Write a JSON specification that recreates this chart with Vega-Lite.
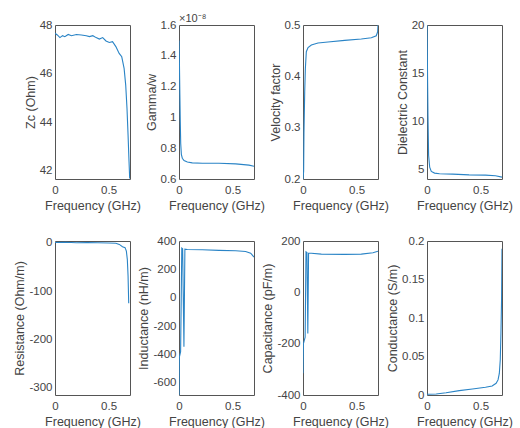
{
  "$schema": "https://vega.github.io/schema/vega-lite/v6.json",
  "background": "white",
  "padding": {"left": 13, "top": 12, "right": 5, "bottom": 1},
  "datasets": {
    "zc": [
      {"f": 0, "v": 47.66}, {"f": 0.0215, "v": 47.59}, {"f": 0.046, "v": 47.48}, {"f": 0.0706, "v": 47.56},
      {"f": 0.092, "v": 47.52}, {"f": 0.123, "v": 47.61}, {"f": 0.1535, "v": 47.56}, {"f": 0.2, "v": 47.61},
      {"f": 0.246, "v": 47.59}, {"f": 0.292, "v": 47.56}, {"f": 0.322, "v": 47.52}, {"f": 0.353, "v": 47.56},
      {"f": 0.384, "v": 47.48}, {"f": 0.414, "v": 47.42}, {"f": 0.445, "v": 47.48}, {"f": 0.476, "v": 47.34},
      {"f": 0.507, "v": 47.28}, {"f": 0.537, "v": 47.31}, {"f": 0.568, "v": 47.11}, {"f": 0.599, "v": 46.83},
      {"f": 0.623, "v": 46.69}, {"f": 0.645, "v": 46.21}, {"f": 0.66, "v": 45.52}, {"f": 0.672, "v": 44.56},
      {"f": 0.682, "v": 43.46}, {"f": 0.691, "v": 42.36}, {"f": 0.697, "v": 41.67}
    ],
    "gamma": [
      {"f": 0, "v": 1.5}, {"f": 0.004, "v": 1.35}, {"f": 0.008, "v": 1.15}, {"f": 0.012, "v": 0.97},
      {"f": 0.016, "v": 0.83}, {"f": 0.022, "v": 0.76}, {"f": 0.031, "v": 0.735}, {"f": 0.047, "v": 0.72},
      {"f": 0.078, "v": 0.71}, {"f": 0.124, "v": 0.705}, {"f": 0.218, "v": 0.702}, {"f": 0.373, "v": 0.702},
      {"f": 0.529, "v": 0.698}, {"f": 0.653, "v": 0.69}, {"f": 0.7, "v": 0.683}
    ],
    "vf": [
      {"f": 0, "v": 0.2}, {"f": 0.006, "v": 0.215}, {"f": 0.009, "v": 0.29}, {"f": 0.016, "v": 0.37},
      {"f": 0.022, "v": 0.415}, {"f": 0.031, "v": 0.448}, {"f": 0.047, "v": 0.456}, {"f": 0.078, "v": 0.461},
      {"f": 0.14, "v": 0.465}, {"f": 0.233, "v": 0.467}, {"f": 0.389, "v": 0.47}, {"f": 0.544, "v": 0.4726},
      {"f": 0.638, "v": 0.475}, {"f": 0.684, "v": 0.479}, {"f": 0.697, "v": 0.487}, {"f": 0.7, "v": 0.5}
    ],
    "eps": [
      {"f": 0, "v": 20}, {"f": 0.003, "v": 17}, {"f": 0.009, "v": 10.6}, {"f": 0.015, "v": 6.5},
      {"f": 0.025, "v": 5.28}, {"f": 0.04, "v": 4.83}, {"f": 0.071, "v": 4.66}, {"f": 0.117, "v": 4.59},
      {"f": 0.24, "v": 4.55}, {"f": 0.393, "v": 4.48}, {"f": 0.546, "v": 4.45}, {"f": 0.639, "v": 4.38},
      {"f": 0.7, "v": 4.24}
    ],
    "res": [
      {"f": 0, "v": 1}, {"f": 0.1, "v": 1.5}, {"f": 0.2, "v": 0.5}, {"f": 0.3, "v": 1}, {"f": 0.4, "v": 0.5},
      {"f": 0.5, "v": 0}, {"f": 0.568, "v": -0.7}, {"f": 0.6, "v": -3}, {"f": 0.63, "v": -7.7},
      {"f": 0.654, "v": -9.8}, {"f": 0.666, "v": -17}, {"f": 0.675, "v": -34}, {"f": 0.682, "v": -69},
      {"f": 0.688, "v": -125}
    ],
    "ind": [
      {"f": 0, "v": -690}, {"f": 0.003, "v": -420}, {"f": 0.015, "v": -380}, {"f": 0.026, "v": 350},
      {"f": 0.034, "v": 345}, {"f": 0.046, "v": -345}, {"f": 0.055, "v": 342}, {"f": 0.078, "v": 340},
      {"f": 0.218, "v": 338}, {"f": 0.373, "v": 334}, {"f": 0.529, "v": 331}, {"f": 0.622, "v": 326},
      {"f": 0.669, "v": 314}, {"f": 0.7, "v": 287}
    ],
    "cap": [
      {"f": 0, "v": -315}, {"f": 0.004, "v": -200}, {"f": 0.02, "v": -175}, {"f": 0.028, "v": 158},
      {"f": 0.037, "v": 155}, {"f": 0.045, "v": -160}, {"f": 0.052, "v": 152}, {"f": 0.078, "v": 152},
      {"f": 0.171, "v": 149}, {"f": 0.389, "v": 148}, {"f": 0.544, "v": 149}, {"f": 0.653, "v": 154},
      {"f": 0.7, "v": 160}
    ],
    "cond": [
      {"f": 0, "v": 0.001}, {"f": 0.086, "v": 0.0013}, {"f": 0.178, "v": 0.003}, {"f": 0.301, "v": 0.0057},
      {"f": 0.424, "v": 0.0078}, {"f": 0.546, "v": 0.01}, {"f": 0.608, "v": 0.0117}, {"f": 0.645, "v": 0.0152},
      {"f": 0.663, "v": 0.0196}, {"f": 0.675, "v": 0.028}, {"f": 0.684, "v": 0.046}, {"f": 0.69, "v": 0.08},
      {"f": 0.696, "v": 0.124}, {"f": 0.7, "v": 0.19}
    ]
  },
  "columns": 4,
  "spacing": {"row": 62, "column": 49},
  "bounds": "flush",
  "concat": [
    {
      "width": 75, "height": 154, "data": {"name": "zc"},
      "mark": {"type": "line", "clip": true},
      "encoding": {
        "x": {"field": "f", "type": "quantitative", "scale": {"domain": [0, 0.7], "nice": false, "zero": false}, "axis": {"values": [0, 0.5], "title": "Frequency (GHz)"}},
        "y": {"field": "v", "type": "quantitative", "scale": {"domain": [41.65, 48], "nice": false, "zero": false}, "axis": {"values": [42, 44, 46, 48], "title": "Zc (Ohm)"}}
      }
    },
    {
      "width": 75, "height": 154, "data": {"name": "gamma"},
      "title": {"text": "×10⁻⁸", "anchor": "start", "frame": "group", "fontSize": 11, "fontWeight": "normal", "offset": -5, "color": "#444", "font": "Liberation Sans"},
      "mark": {"type": "line", "clip": true},
      "encoding": {
        "x": {"field": "f", "type": "quantitative", "scale": {"domain": [0, 0.7], "nice": false, "zero": false}, "axis": {"values": [0, 0.5], "title": "Frequency (GHz)"}},
        "y": {"field": "v", "type": "quantitative", "scale": {"domain": [0.6, 1.6], "nice": false, "zero": false}, "axis": {"values": [0.6, 0.8, 1, 1.2, 1.4, 1.6], "title": "Gamma/w"}}
      }
    },
    {
      "width": 75, "height": 154, "data": {"name": "vf"},
      "mark": {"type": "line", "clip": true},
      "encoding": {
        "x": {"field": "f", "type": "quantitative", "scale": {"domain": [0, 0.7], "nice": false, "zero": false}, "axis": {"values": [0, 0.5], "title": "Frequency (GHz)"}},
        "y": {"field": "v", "type": "quantitative", "scale": {"domain": [0.2, 0.5], "nice": false, "zero": false}, "axis": {"values": [0.2, 0.3, 0.4, 0.5], "title": "Velocity factor"}}
      }
    },
    {
      "width": 75, "height": 154, "data": {"name": "eps"},
      "mark": {"type": "line", "clip": true},
      "encoding": {
        "x": {"field": "f", "type": "quantitative", "scale": {"domain": [0, 0.7], "nice": false, "zero": false}, "axis": {"values": [0, 0.5], "title": "Frequency (GHz)"}},
        "y": {"field": "v", "type": "quantitative", "scale": {"domain": [4.05, 20], "nice": false, "zero": false}, "axis": {"values": [5, 10, 15, 20], "title": "Dielectric Constant"}}
      }
    },
    {
      "width": 75, "height": 154, "data": {"name": "res"},
      "mark": {"type": "line", "clip": true},
      "encoding": {
        "x": {"field": "f", "type": "quantitative", "scale": {"domain": [0, 0.7], "nice": false, "zero": false}, "axis": {"values": [0, 0.5], "title": "Frequency (GHz)"}},
        "y": {"field": "v", "type": "quantitative", "scale": {"domain": [-315, 4], "nice": false, "zero": false}, "axis": {"values": [-300, -200, -100, 0], "title": "Resistance (Ohm/m)", "labelExpr": "replace(datum.label, '−', '-')"}}
      }
    },
    {
      "width": 75, "height": 154, "data": {"name": "ind"},
      "mark": {"type": "line", "clip": true},
      "encoding": {
        "x": {"field": "f", "type": "quantitative", "scale": {"domain": [0, 0.7], "nice": false, "zero": false}, "axis": {"values": [0, 0.5], "title": "Frequency (GHz)"}},
        "y": {"field": "v", "type": "quantitative", "scale": {"domain": [-685, 400], "nice": false, "zero": false}, "axis": {"values": [-600, -400, -200, 0, 200, 400], "title": "Inductance (nH/m)", "labelExpr": "replace(datum.label, '−', '-')"}}
      }
    },
    {
      "width": 75, "height": 154, "data": {"name": "cap"},
      "mark": {"type": "line", "clip": true},
      "encoding": {
        "x": {"field": "f", "type": "quantitative", "scale": {"domain": [0, 0.7], "nice": false, "zero": false}, "axis": {"values": [0, 0.5], "title": "Frequency (GHz)"}},
        "y": {"field": "v", "type": "quantitative", "scale": {"domain": [-400, 200], "nice": false, "zero": false}, "axis": {"values": [-400, -200, 0, 200], "title": "Capacitance (pF/m)", "labelExpr": "replace(datum.label, '−', '-')"}}
      }
    },
    {
      "width": 75, "height": 154, "data": {"name": "cond"},
      "mark": {"type": "line", "clip": true},
      "encoding": {
        "x": {"field": "f", "type": "quantitative", "scale": {"domain": [0, 0.7], "nice": false, "zero": false}, "axis": {"values": [0, 0.5], "title": "Frequency (GHz)"}},
        "y": {"field": "v", "type": "quantitative", "scale": {"domain": [0, 0.2], "nice": false, "zero": false}, "axis": {"values": [0, 0.05, 0.1, 0.15, 0.2], "title": "Conductance (S/m)"}}
      }
    }
  ],
  "config": {
    "font": "Liberation Sans",
    "view": {"stroke": "#555555", "strokeWidth": 1},
    "line": {"color": "#2a84c6", "strokeWidth": 1.1},
    "axis": {
      "labelFont": "Liberation Sans", "titleFont": "Liberation Sans",
      "labelFontSize": 11.5, "titleFontSize": 12.5, "titleFontWeight": "normal",
      "labelColor": "#444444", "titleColor": "#444444",
      "ticks": false, "domain": false, "grid": false,
      "labelPadding": 3, "titlePadding": 2, "format": "~f",
      "labelFlush": false, "labelOverlap": false
    },
    "axisX": {"labelPadding": 5, "titlePadding": 3.5}
  }
}
